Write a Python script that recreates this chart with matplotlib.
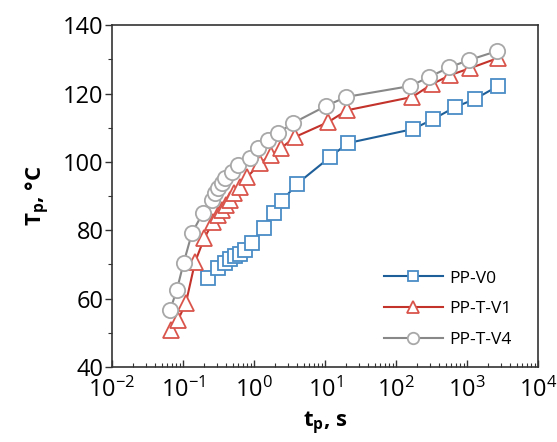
import numpy as np
import matplotlib
matplotlib.use("Agg")
import matplotlib.pyplot as plt
from matplotlib.ticker import LogLocator, MultipleLocator

plt.rcParams['font.family'] = ['Open Sans', 'DejaVu Sans']
plt.rcParams['mathtext.fontset'] = 'custom'
plt.rcParams['mathtext.rm'] = 'Open Sans'
plt.rcParams['mathtext.it'] = 'Open Sans:italic'
plt.rcParams['mathtext.bf'] = 'Open Sans:bold'
plt.rcParams['axes.unicode_minus'] = False

# PP-V0
t_v0 = [0.225, 0.31, 0.39, 0.46, 0.54, 0.63, 0.75, 0.94, 1.38, 1.9, 2.46, 4.0,
        11.8, 21, 174, 333, 675, 1300, 2730]
T_v0 = [66.0, 69.0, 70.4, 71.6, 72.5, 73.0, 74.2, 76.3, 80.6, 85.0, 88.5, 93.5,
        101.4, 105.5, 109.6, 112.5, 116.0, 118.4, 122.2]

# PP-T-V1
t_v1 = [0.068, 0.085, 0.11, 0.148, 0.20, 0.265, 0.31, 0.35, 0.41, 0.46, 0.52,
        0.63, 0.80, 1.22, 1.73, 2.4, 3.8, 11, 20.4, 170, 318, 580, 1100, 2740]
T_v1 = [50.8, 53.7, 58.7, 70.7, 77.7, 82.4, 84.4, 85.9, 87.4, 88.8, 90.9,
        92.6, 95.5, 99.6, 102.0, 104.0, 107.3, 111.6, 115.1, 119.0, 122.7, 125.4, 127.4, 130.4]

# PP-T-V4
t_v4 = [0.066, 0.082, 0.102, 0.134, 0.19, 0.257, 0.28, 0.31, 0.355, 0.39, 0.49,
        0.6, 0.88, 1.14, 1.57, 2.18, 3.5, 10.2, 19.8, 159, 290, 565, 1070, 2620]
T_v4 = [56.7, 62.5, 70.4, 79.2, 85.0, 88.8, 90.9, 92.3, 93.8, 95.3, 97.0,
        99.0, 101.1, 104.0, 106.4, 108.4, 111.3, 116.3, 119.0, 122.2, 124.8, 127.7, 129.8, 132.4]

fig = plt.figure(figsize=(5.57, 4.42), dpi=100)
ax = fig.add_axes([0.201, 0.170, 0.765, 0.773])

ax.plot(t_v0, T_v0, color='#1f5f99', lw=1.5, marker='s', ms=10,
        mfc='white', mec='#4a8cc6', mew=1.3, label='PP-V0')
ax.plot(t_v1, T_v1, color='#c3322b', lw=1.5, marker='^', ms=12,
        mfc='white', mec='#d9554c', mew=1.3, label='PP-T-V1')
ax.plot(t_v4, T_v4, color='#888888', lw=1.5, marker='o', ms=11,
        mfc='white', mec='#a8a8a8', mew=1.3, label='PP-T-V4')

ax.set_xscale('log')
ax.set_xlim(1e-2, 1e4)
ax.set_ylim(40, 140)
ax.xaxis.set_major_locator(LogLocator(base=10, numticks=10))
ax.xaxis.set_minor_locator(LogLocator(base=10, subs=np.arange(2, 10), numticks=20))
ax.yaxis.set_major_locator(MultipleLocator(20))
ax.yaxis.set_minor_locator(MultipleLocator(10))

ax.tick_params(axis='x', which='both', direction='in', labelsize=17, pad=8, color='#333333')
ax.tick_params(axis='x', which='major', length=5, width=1)
ax.tick_params(axis='x', which='minor', length=3, width=0.8)
ax.tick_params(axis='y', which='both', direction='out', labelsize=17, pad=1, color='#333333')
ax.tick_params(axis='y', which='major', length=5, width=1)
ax.tick_params(axis='y', which='minor', length=3, width=0.8)

for s in ax.spines.values():
    s.set_linewidth(1.2)
    s.set_color('#333333')

ax.set_xlabel(r'$\mathbf{t_p}$, s', fontsize=16, fontweight='bold', labelpad=5)
ax.set_ylabel(r'$\mathbf{T_p}$, °C', fontsize=16, fontweight='bold', labelpad=8)

ax.legend(loc='lower right', bbox_to_anchor=(1.0, -0.022), frameon=False,
          fontsize=12.5, handlelength=3.4, markerscale=0.75, labelspacing=0.85,
          borderaxespad=1.1, handletextpad=0.4)

fig.savefig('out.png', dpi=100)
